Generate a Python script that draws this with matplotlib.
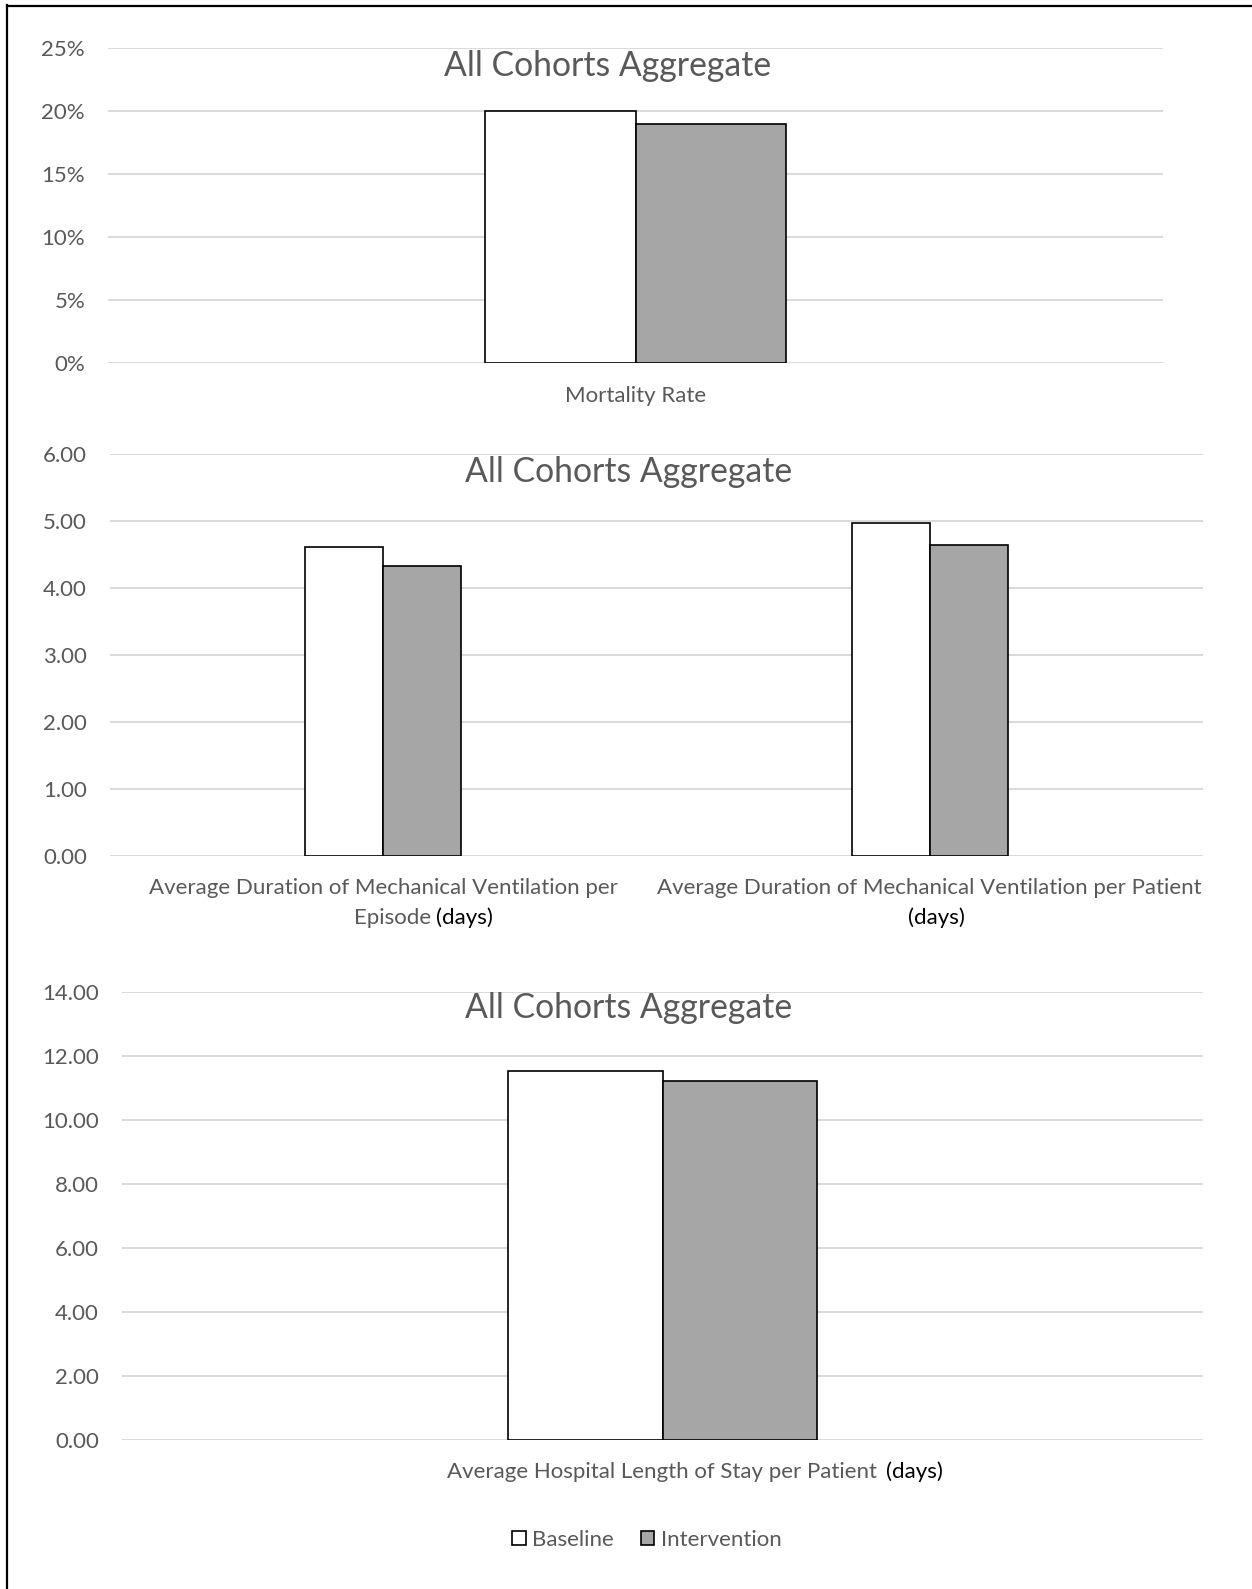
import matplotlib
matplotlib.use("Agg")
import matplotlib.pyplot as plt
from matplotlib.lines import Line2D
from matplotlib.patches import Patch
import numpy as np

plt.rcParams['font.family'] = ['Lato', 'DejaVu Sans']

W, H = 1252, 1589
DPI = 100

GREY_TEXT = '#595959'
GRID = '#d9d9d9'
BASE_COLOR = 'white'
INT_COLOR = '#a6a6a6'
FS = 16
TITLE_FS = 24.3

series = ['Baseline', 'Intervention']
title = 'All Cohorts Aggregate'

# mortality
mort_cats = ['Mortality Rate']
mort_baseline = [0.20]
mort_intervention = [0.19]
mort_ticks = [0, 0.05, 0.10, 0.15, 0.20, 0.25]

# mechanical ventilation (days)
vent_cats = ['Per Episode', 'Per Patient']
vent_baseline = [4.62, 4.97]
vent_intervention = [4.33, 4.65]
vent_ticks = [0, 1, 2, 3, 4, 5, 6]

# hospital length of stay (days)
los_cats = ['Per Patient']
los_baseline = [11.55]
los_intervention = [11.23]
los_ticks = [0, 2, 4, 6, 8, 10, 12, 14]

fig = plt.figure(figsize=(W / DPI, H / DPI), dpi=DPI)
fig.patch.set_facecolor('white')


def px_axes(x0, x1, y_top, y_bot):
    # place an axes using pixel edges measured from the top-left
    return fig.add_axes([x0 / W, 1 - y_bot / H, (x1 - x0) / W, (y_bot - y_top) / H])


def bar_panel(ax, base, inter, ticks, fmt):
    x = np.arange(len(base))
    bw = 0.143
    ax.bar(x - bw / 2, base, bw, color=BASE_COLOR, edgecolor='black', linewidth=1.2, zorder=3)
    ax.bar(x + bw / 2, inter, bw, color=INT_COLOR, edgecolor='black', linewidth=1.2, zorder=3)
    ax.set_xlim(-0.5, len(base) - 0.5)
    ax.set_ylim(ticks[0], ticks[-1])
    ax.set_yticks(ticks)
    ax.set_yticklabels([fmt(t) for t in ticks])
    ax.set_xticks([])
    ax.yaxis.grid(True, color=GRID, linewidth=1.4)
    ax.set_axisbelow(True)
    for s in ax.spines.values():
        s.set_visible(False)
    ax.tick_params(axis='y', length=0, pad=16.5, labelsize=FS, labelcolor=GREY_TEXT)
    ax.patch.set_alpha(0)


def fig_text(x, y, s, **kw):
    return fig.text(x / W, 1 - y / H, s, **kw)


renderer = fig.canvas.get_renderer()


def mixed_line(xc, y, parts, size=FS, gap=5):
    # draw several coloured pieces on one line, centred on xc (pixels)
    widths = []
    for s, c in parts:
        t = fig_text(0, y, s, fontsize=size, color=c)
        widths.append(t.get_window_extent(renderer).width)
        t.remove()
    total = sum(widths) + gap * (len(parts) - 1)
    x = xc - total / 2
    for (s, c), w in zip(parts, widths):
        fig_text(x, y, s, fontsize=size, color=c, ha='left', va='center')
        x += w + gap


# panel 1
ax1 = px_axes(108, 1163, 48, 363)
bar_panel(ax1, mort_baseline, mort_intervention, mort_ticks, lambda t: f'{t:.0%}')
fig_text(608, 66, title, fontsize=TITLE_FS, color=GREY_TEXT, ha='center', va='center')
fig_text(636, 396, mort_cats[0], fontsize=FS, color=GREY_TEXT, ha='center', va='center')

# panel 2
ax2 = px_axes(110, 1203, 454.3, 855.7)
bar_panel(ax2, vent_baseline, vent_intervention, vent_ticks, lambda t: f'{t:.2f}')
fig_text(629, 472, title, fontsize=TITLE_FS, color=GREY_TEXT, ha='center', va='center')
fig_text(383, 888, 'Average Duration of Mechanical Ventilation per', fontsize=FS,
         color=GREY_TEXT, ha='center', va='center')
mixed_line(423, 918, [('Episode', GREY_TEXT), ('(days)', 'black')])
fig_text(929, 888, 'Average Duration of Mechanical Ventilation per Patient', fontsize=FS,
         color=GREY_TEXT, ha='center', va='center')
fig_text(936, 918, '(days)', fontsize=FS, color='black', ha='center', va='center')

# panel 3
ax3 = px_axes(122, 1203, 992.3, 1440)
bar_panel(ax3, los_baseline, los_intervention, los_ticks, lambda t: f'{t:.2f}')
fig_text(629, 1008, title, fontsize=TITLE_FS, color=GREY_TEXT, ha='center', va='center')
mixed_line(695, 1472, [('Average Hospital Length of Stay per Patient', GREY_TEXT),
                       ('(days)', 'black')], gap=9)

# legend
handles = [Patch(facecolor=BASE_COLOR, edgecolor='black', linewidth=1.2),
           Patch(facecolor=INT_COLOR, edgecolor='black', linewidth=1.2)]
leg = fig.legend(handles, series, loc='center', bbox_to_anchor=(647 / W, 1 - 1540 / H),
                 ncol=2, frameon=False, fontsize=FS, handlelength=0.6, handleheight=0.6,
                 handletextpad=0.3, columnspacing=1.2)
for t in leg.get_texts():
    t.set_color(GREY_TEXT)

# outer frame (left and top edges only)
fig.add_artist(Line2D([6.5 / W, 6.5 / W], [0, 1 - 5 / H], transform=fig.transFigure,
                      color='black', linewidth=1.6))
fig.add_artist(Line2D([6.5 / W, 1], [1 - 5.5 / H, 1 - 5.5 / H], transform=fig.transFigure,
                      color='black', linewidth=1.6))

fig.savefig('out.png', dpi=DPI, facecolor='white')
